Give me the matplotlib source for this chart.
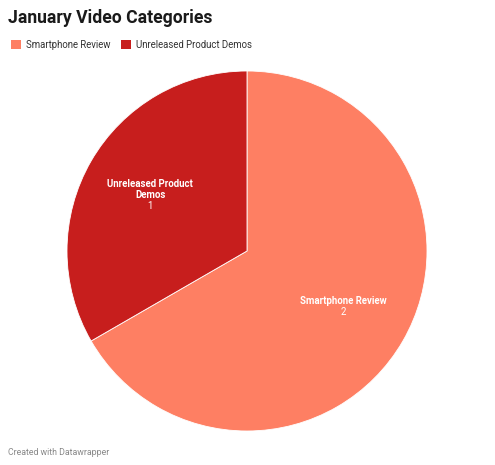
import numpy as np
import matplotlib.pyplot as plt
from matplotlib.patches import Patch

plt.rcParams['font.family'] = ['Roboto', 'DejaVu Sans']

categories = ["Smartphone Review", "Unreleased Product Demos"]
values = [2, 1]
colors = ["#fe7f63", "#c71e1d"]
slice_labels = [["Smartphone Review"], ["Unreleased Product", "Demos"]]

W, H = 495, 465
fig = plt.figure(figsize=(W / 100, H / 100), dpi=100)

# pie area: centre ~(247, 251) px, radius ~180 px
ax = fig.add_axes([67 / W, 34 / H, 360 / W, 360 / H])
wedges, _ = ax.pie(values, colors=colors, startangle=90, counterclock=False,
                   wedgeprops=dict(edgecolor="white", linewidth=0.6))
ax.set_xlim(-1, 1)
ax.set_ylim(-1, 1)

line_h = 11 / 180  # one text line in data units
for w, lines, v in zip(wedges, slice_labels, values):
    mid = np.deg2rad((w.theta1 + w.theta2) / 2)
    cx, cy = 0.62 * np.cos(mid), 0.62 * np.sin(mid)
    n = len(lines) + 1
    top = cy + line_h * (n - 1) / 2
    for i, ln in enumerate(lines):
        ax.text(cx, top - i * line_h, ln, ha="center", va="center",
                color="white", fontsize=6.9, fontweight="bold")
    ax.text(cx, top - len(lines) * line_h, str(v), ha="center", va="center",
            color="white", fontsize=6.9)

fig.text(8 / W, 1 - 9 / H, "January Video Categories", fontsize=12.7,
         fontweight="bold", color="#1a1a1a", ha="left", va="top")

handles = [Patch(facecolor=c, edgecolor="none") for c in colors]
fig.legend(handles, categories, ncol=2, loc="upper left",
           bbox_to_anchor=(2 / W, 1 - 31 / H), frameon=False,
           fontsize=6.9, handlelength=1.05, handleheight=1.05,
           handletextpad=0.55, columnspacing=1.1, labelcolor="#333333")

fig.text(8 / W, 1 - 452 / H, "Created with Datawrapper", fontsize=6.3,
         color="#888888", ha="left", va="center")

fig.savefig("out.png", dpi=100)
